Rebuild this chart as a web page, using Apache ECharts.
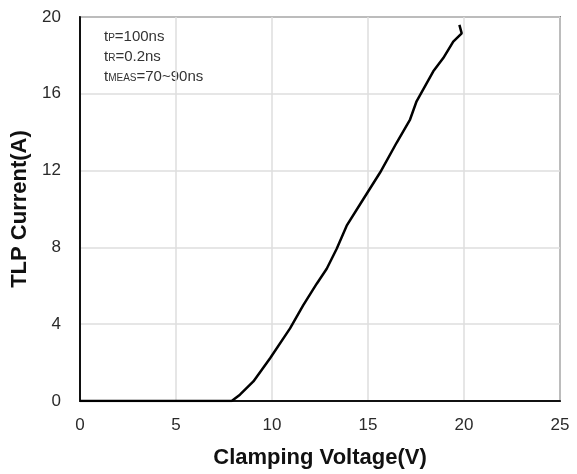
<!DOCTYPE html>
<html>
<head>
<meta charset="utf-8">
<script src="https://cdn.jsdelivr.net/npm/echarts@6/dist/echarts.min.js"></script>
<style>
  html, body { margin: 0; padding: 0; background: #fff; }
  #main { width: 577px; height: 474px; }
</style>
</head>
<body>
<div id="main"></div>
<script>
// TLP curve
var voltage = [0, 7.9, 8.33, 9.03, 9.9, 10.94, 11.63, 12.33, 12.85, 13.37, 13.89, 14.76, 15.63, 16.49, 17.19, 17.53, 18.4, 18.92, 19.44, 19.88, 19.76];
var current = [0, 0, 0.33, 1.02, 2.23, 3.78, 4.99, 6.11, 6.89, 7.93, 9.13, 10.52, 11.9, 13.45, 14.66, 15.61, 17.17, 17.86, 18.72, 19.15, 19.59];
var xTicks = [0, 5, 10, 15, 20, 25];
var yTicks = [0, 4, 8, 12, 16, 20];

var points = voltage.map(function (v, i) { return [v, current[i]]; });

var myChart = echarts.init(document.getElementById('main'));
myChart.setOption({
    animation: false,
    textStyle: { fontFamily: 'Liberation Sans, Arial, sans-serif' },
    grid: {
        left: 80, right: 17, top: 17, bottom: 71,
        show: true, borderColor: '#222', borderWidth: 1.5
    },
    xAxis: {
        type: 'value',
        min: xTicks[0], max: xTicks[xTicks.length - 1], interval: 5,
        name: 'Clamping Voltage(V)',
        nameLocation: 'middle', nameGap: 46,
        nameTextStyle: { fontSize: 22, fontWeight: 'bold', color: '#111' },
        axisLine: { lineStyle: { color: '#111', width: 2 } },
        axisTick: { show: false },
        axisLabel: { fontSize: 17, color: '#2a2a2a', margin: 16 },
        splitLine: { lineStyle: { color: '#dedede', width: 1.5 } }
    },
    yAxis: {
        type: 'value',
        min: yTicks[0], max: yTicks[yTicks.length - 1], interval: 4,
        name: 'TLP Current(A)',
        nameLocation: 'middle', nameGap: 44,
        nameTextStyle: { fontSize: 22, fontWeight: 'bold', color: '#111' },
        axisLine: { lineStyle: { color: '#111', width: 2 } },
        axisTick: { show: false },
        axisLabel: { fontSize: 17, color: '#2a2a2a', margin: 19 },
        splitLine: { lineStyle: { color: '#dedede', width: 1.5 } }
    },
    graphic: [{
        type: 'text',
        left: 104, top: 29,
        style: {
            text: '{t|t}{s|P}{t|=100ns}\n{t|t}{s|R}{t|=0.2ns}\n{t|t}{s|MEAS}{t|=70~90ns}',
            rich: {
                t: { fontSize: 15, fill: '#333', lineHeight: 20, fontFamily: 'Liberation Sans' },
                s: { fontSize: 10, fill: '#333', lineHeight: 20, fontFamily: 'Liberation Sans', padding: [3, 0, 0, 0] }
            }
        }
    }],
    series: [{
        type: 'line',
        data: points,
        symbol: 'none',
        smooth: false,
        lineStyle: { color: '#000', width: 2.5 }
    }]
});
</script>
</body>
</html>
